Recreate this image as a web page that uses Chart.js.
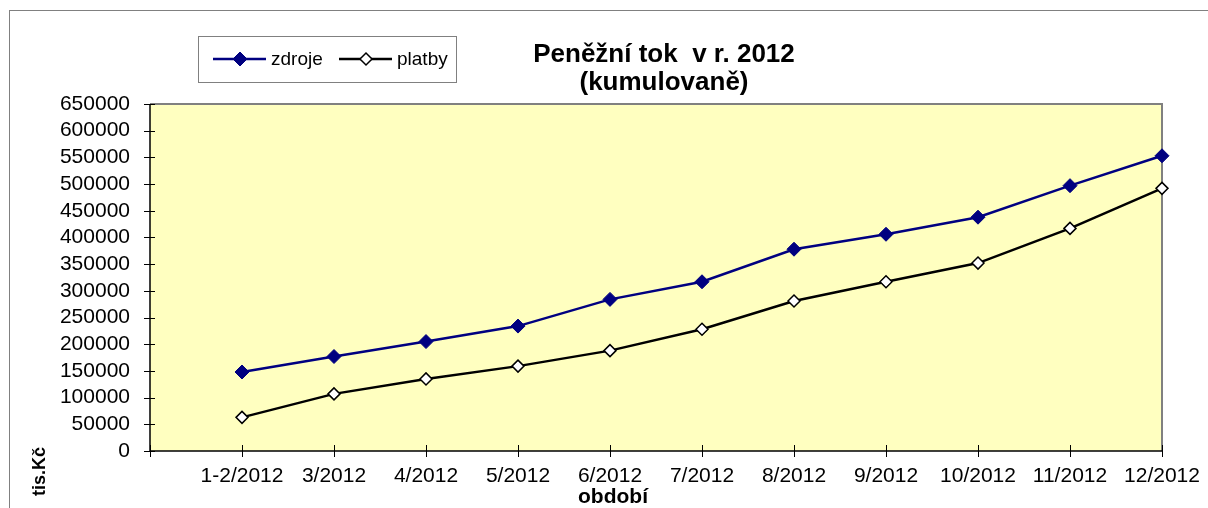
<!DOCTYPE html>
<html>
<head>
<meta charset="utf-8">
<script src="https://cdn.jsdelivr.net/npm/chart.js@4/dist/chart.umd.min.js"></script>
<style>
  html, body { margin: 0; padding: 0; background: #fff; overflow: hidden; }
  #wrap { position: relative; width: 1208px; height: 508px; }
</style>
</head>
<body>
<div id="wrap"><canvas id="tokChart" width="1208" height="508"></canvas></div>
<script>
const periods = ['1-2/2012', '3/2012', '4/2012', '5/2012', '6/2012', '7/2012',
                 '8/2012', '9/2012', '10/2012', '11/2012', '12/2012'];
const zdroje = [148000, 177000, 205000, 234000, 284000, 317000, 378000, 406000, 438000, 497000, 553000];
const platby = [63000, 107000, 135000, 159000, 188000, 228000, 281000, 317000, 352000, 417000, 492000];
const yMin = 0;
const yMax = 650000;
const yStep = 50000;

const FONT = '"Liberation Sans", Arial, sans-serif';

// first slot on the axis is empty, like in the original sheet
const labels = [''].concat(periods);

const decor = {
  id: 'decor',
  beforeDraw(chart) {
    const ctx = chart.ctx;
    const a = chart.chartArea;
    ctx.save();
    // outer frame
    ctx.strokeStyle = '#808080';
    ctx.lineWidth = 1;
    ctx.strokeRect(9.5, 10.5, 1400, 700);
    // plot background
    ctx.fillStyle = '#FFFFC0';
    ctx.fillRect(a.left, a.top, a.right - a.left, a.bottom - a.top);
    ctx.strokeStyle = '#808080';
    ctx.lineWidth = 2;
    ctx.beginPath();
    ctx.moveTo(a.left, a.top);
    ctx.lineTo(a.right, a.top);
    ctx.lineTo(a.right, a.bottom);
    ctx.stroke();
    ctx.restore();
  },
  afterDraw(chart) {
    const ctx = chart.ctx;
    const a = chart.chartArea;
    const xs = chart.scales.x;
    const ys = chart.scales.y;
    ctx.save();
    // axes + crossing tick marks
    ctx.strokeStyle = '#000';
    ctx.lineWidth = 1.5;
    ctx.beginPath();
    ctx.moveTo(a.left, a.top);
    ctx.lineTo(a.left, a.bottom);
    ctx.lineTo(a.right, a.bottom);
    ctx.stroke();
    ctx.lineWidth = 1;
    ctx.beginPath();
    ys.ticks.forEach(t => {
      const y = Math.round(ys.getPixelForValue(t.value)) + 0.5;
      ctx.moveTo(a.left - 6, y);
      ctx.lineTo(a.left + 5, y);
    });
    xs.ticks.forEach((t, i) => {
      const x = Math.round(xs.getPixelForTick(i)) + 0.5;
      ctx.moveTo(x, a.bottom - 6);
      ctx.lineTo(x, a.bottom + 6);
    });
    ctx.stroke();

    // title
    ctx.fillStyle = '#000';
    ctx.textAlign = 'center';
    ctx.textBaseline = 'alphabetic';
    ctx.font = 'bold 26px ' + FONT;
    ctx.fillText('Peněžní tok  v r. 2012', 664, 62);
    ctx.fillText('(kumulovaně)', 664, 90);

    // axis titles
    ctx.font = 'bold 21px ' + FONT;
    ctx.fillText('období', 613, 503);
    ctx.save();
    ctx.translate(45, 496);
    ctx.rotate(-Math.PI / 2);
    ctx.textAlign = 'left';
    ctx.font = 'bold 18px ' + FONT;
    ctx.fillText('tis.Kč', 0, 0);
    ctx.restore();

    // legend
    ctx.fillStyle = '#fff';
    ctx.fillRect(198, 36, 258, 46);
    ctx.strokeStyle = '#808080';
    ctx.lineWidth = 1;
    ctx.strokeRect(198.5, 36.5, 258, 46);
    const items = [
      { ds: chart.data.datasets[0], x: 213 },
      { ds: chart.data.datasets[1], x: 339 }
    ];
    items.forEach(it => {
      const ly = 59;
      ctx.strokeStyle = it.ds.borderColor;
      ctx.lineWidth = it.ds.borderWidth;
      ctx.beginPath();
      ctx.moveTo(it.x, ly);
      ctx.lineTo(it.x + 53, ly);
      ctx.stroke();
      ctx.fillStyle = it.ds.pointBackgroundColor;
      ctx.strokeStyle = it.ds.pointBorderColor;
      ctx.lineWidth = it.ds.pointBorderWidth;
      Chart.helpers.drawPoint(ctx, {
        pointStyle: 'rectRot', radius: it.ds.pointRadius, rotation: 0,
        borderWidth: it.ds.pointBorderWidth
      }, it.x + 27, ly);
      ctx.fillStyle = '#000';
      ctx.textAlign = 'left';
      ctx.textBaseline = 'middle';
      ctx.font = '19px ' + FONT;
      ctx.fillText(it.ds.label, it.x + 58, ly + 1);
    });
    ctx.restore();
  }
};

new Chart(document.getElementById('tokChart'), {
  type: 'line',
  data: {
    labels: labels,
    datasets: [{
      label: 'zdroje',
      data: [null].concat(zdroje),
      borderColor: '#000080',
      borderWidth: 2.5,
      pointStyle: 'rectRot',
      pointRadius: 7,
      pointBackgroundColor: '#000080',
      pointBorderColor: '#000080',
      pointBorderWidth: 1,
      tension: 0
    }, {
      label: 'platby',
      data: [null].concat(platby),
      borderColor: '#000000',
      borderWidth: 2.5,
      pointStyle: 'rectRot',
      pointRadius: 6,
      pointBackgroundColor: '#ffffff',
      pointBorderColor: '#000000',
      pointBorderWidth: 1.5,
      tension: 0
    }]
  },
  options: {
    responsive: false,
    animation: false,
    devicePixelRatio: 1,
    layout: { padding: { left: 0, right: 46, top: 104, bottom: 0 } },
    plugins: {
      legend: { display: false },
      title: { display: false },
      tooltip: { enabled: false }
    },
    scales: {
      x: {
        offset: false,
        grid: { display: false, drawTicks: false },
        border: { display: false },
        ticks: {
          color: '#000',
          font: { family: FONT, size: 21 },
          padding: 13,
          maxRotation: 0,
          autoSkip: false
        },
        afterFit(scale) {
          scale.height = 57;
          scale.paddingLeft = 0;
          scale.paddingRight = 0;
        }
      },
      y: {
        min: yMin,
        max: yMax,
        grid: { display: false, drawTicks: false },
        border: { display: false },
        ticks: {
          stepSize: yStep,
          color: '#000',
          font: { family: FONT, size: 21 },
          padding: 20,
          autoSkip: false,
          callback: v => String(v)
        },
        afterFit(scale) {
          scale.width = 150;
          scale.paddingTop = 0;
          scale.paddingBottom = 0;
        }
      }
    }
  },
  plugins: [decor]
});
</script>
</body>
</html>
